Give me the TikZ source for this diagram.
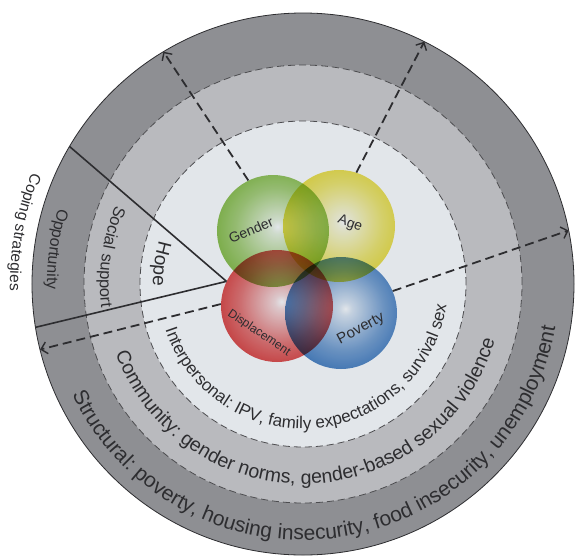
\documentclass[tikz,border=0pt]{standalone}
\usepackage{fontspec}
\setmainfont{Liberation Sans}
\usepackage{tikz}
\usetikzlibrary{arrows.meta,decorations.text}

\definecolor{ringout}{RGB}{142,143,147}
\definecolor{ringmid}{RGB}{185,186,190}
\definecolor{ringin}{RGB}{226,230,234}
\definecolor{gendercol}{RGB}{110,176,36}
\definecolor{agecol}{RGB}{230,214,24}
\definecolor{dispcol}{RGB}{214,30,30}
\definecolor{povcol}{RGB}{30,100,180}
\definecolor{inkcol}{RGB}{45,45,48}

\pgfdeclareradialshading{gendershade}{\pgfpoint{2bp}{2bp}}{color(0bp)=(white); color(3bp)=(gendercol!15!white); color(18bp)=(gendercol!60!white); color(36bp)=(gendercol); color(50bp)=(gendercol!88!black)}
\pgfdeclareradialshading{ageshade}{\pgfpoint{2bp}{2bp}}{color(0bp)=(white); color(3bp)=(agecol!15!white); color(18bp)=(agecol!60!white); color(36bp)=(agecol); color(50bp)=(agecol!88!black)}
\pgfdeclareradialshading{dispshade}{\pgfpoint{2bp}{2bp}}{color(0bp)=(white); color(3bp)=(dispcol!15!white); color(18bp)=(dispcol!60!white); color(36bp)=(dispcol); color(50bp)=(dispcol!88!black)}
\pgfdeclareradialshading{povshade}{\pgfpoint{2bp}{2bp}}{color(0bp)=(white); color(3bp)=(povcol!15!white); color(18bp)=(povcol!60!white); color(36bp)=(povcol); color(50bp)=(povcol!88!black)}

\newcommand\copefont{\fontsize{15.5}{18}\selectfont}
\newcommand\oppfont{\fontsize{16}{19}\selectfont}
\newcommand\socialfont{\fontsize{16.5}{19}\selectfont}
\newcommand\hopefont{\fontsize{19}{22}\selectfont}
\newcommand\interfont{\fontsize{17}{20}\selectfont}
\newcommand\levelfont{\fontsize{19.5}{23}\selectfont}
\newcommand\structfont{\fontsize{21}{25}\selectfont}

\begin{document}
\begin{tikzpicture}[x=1pt,y=1pt,
  sphere/.style={circle,minimum size=112pt,inner sep=0pt},
  ringline/.style={draw=inkcol!85!white,line width=0.8pt,dash pattern=on 7pt off 4pt},
  flow/.style={draw=inkcol,line width=1.8pt,dash pattern=on 9pt off 5pt,-{Straight Barb[length=6pt,width=12pt,line width=1.4pt]}},
  split/.style={draw=inkcol,line width=1.6pt},
  spherelabel/.style={font=\fontsize{14}{16}\selectfont,text=inkcol,inner sep=0pt}]

	\useasboundingbox[fill=white] (-303,-274) rectangle (272,284);

	% rings
	\coordinate (c) at (0,0);
	\fill[ringout,draw=inkcol,line width=0.8pt] (c) circle (271);
	\fill[ringmid] (c) circle (219);
	\draw[ringline] (c) circle (219);
	\fill[ringin] (c) circle (163);
	\draw[ringline] (c) circle (163);

	% spheres
	\begin{scope}[blend mode=multiply]
		\node[sphere,shading=gendershade] (gender)       at (-30,53)  {};
		\node[sphere,shading=ageshade]    (age)          at (36,58)   {};
		\node[sphere,shading=dispshade]   (displacement) at (-26,-22) {};
		\node[sphere,shading=povshade]    (poverty)      at (38,-29)  {};
	\end{scope}

	\node[spherelabel,rotate=23]  (gendertxt) at (-52,54)  {Gender};
	\node[spherelabel,rotate=-20] (agetxt)    at (47,60)   {Age};
	\node[spherelabel,rotate=-34,font=\fontsize{12}{14}\selectfont] (disptxt) at (-44,-49) {Displacement};
	\node[spherelabel,rotate=28,font=\fontsize{15}{17}\selectfont]  (povtxt)  at (58,-45)  {Poverty};

	% ends on the outer circle
	\coordinate (gtip)  at (121:271);
	\coordinate (atip)  at (63.4:271);
	\coordinate (rtip)  at (11.4:271);
	\coordinate (ltip)  at (194:271);
	\coordinate (sptop) at (149.5:271);
	\coordinate (spbot) at (189.2:271);

	\draw[split] (displacement.154) -- (sptop);
	\draw[split] (displacement.154) -- (spbot);

	\draw[flow] (gender.116) -- (gtip);
	\draw[flow] (age.72) -- (atip);
	\draw[flow] (poverty.23) -- (rtip);
	\draw[flow] (displacement.178) -- (ltip);

	% texts along the rings
	\path[decorate,decoration={text along path,text align=center,text={|\copefont\color{inkcol}|Coping strategies}}]
		(129.5:293) arc[start angle=129.5,end angle=209.5,radius=293];
	\path[decorate,decoration={text along path,text align=center,text={|\oppfont\color{inkcol}|Opportunity}}]
		(132:256) arc[start angle=132,end angle=212,radius=256];
	\path[decorate,decoration={text along path,text align=center,text={|\socialfont\color{inkcol}|Social support}}]
		(132:203) arc[start angle=132,end angle=212,radius=203];
	\path[decorate,decoration={text along path,text align=center,text={|\hopefont\color{inkcol}|Hope}}]
		(142:150) arc[start angle=142,end angle=202,radius=150];
	\path[decorate,decoration={text along path,text align=center,text={|\interfont\color{inkcol}|Interpersonal: IPV, family expectations, survival sex}}]
		(186:145) arc[start angle=186,end angle=364,radius=145];
	\path[decorate,decoration={text along path,text align=center,text={|\levelfont\color{inkcol}|Community: gender norms, gender-based sexual violence}}]
		(184:200) arc[start angle=184,end angle=360,radius=200];
	\path[decorate,decoration={text along path,text align=center,text={|\structfont\color{inkcol}|Structural: poverty, housing insecurity, food insecurity, unemployment}}]
		(187:256) arc[start angle=187,end angle=369,radius=256];

\end{tikzpicture}
\end{document}
